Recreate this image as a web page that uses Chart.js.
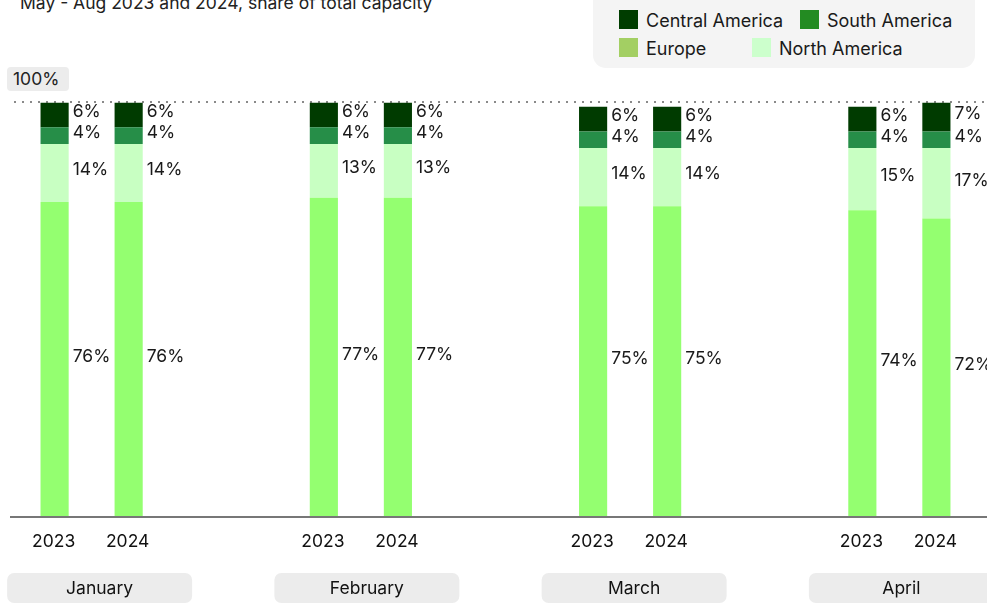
<!DOCTYPE html>
<html>
<head>
<meta charset="utf-8">
<script src="https://cdn.jsdelivr.net/npm/chart.js@4"></script>
<style>
  html, body { margin: 0; padding: 0; background: #fff; width: 987px; height: 603px; overflow: hidden; position: relative; font-family: Inter, "Noto Sans", sans-serif; color: #1a1a1a; }
  #title { position: absolute; left: 20px; top: -8px; font-size: 17.5px; white-space: nowrap; color: #222; }
  #legend { position: absolute; left: 593px; top: -20px; width: 382px; height: 88px; background: #f4f4f4; border-radius: 13px; }
  .item { position: absolute; font-size: 18px; line-height: 20px; white-space: nowrap; color: #1a1a1a; }
  .sw { position: absolute; width: 19px; height: 19px; }
  #cap { position: absolute; left: 7px; top: 67px; width: 62px; height: 24px; background: #ececec; border-radius: 4px; font-size: 17.5px; line-height: 24px; text-indent: 6px; color: #222; }
  #wrap { position: absolute; left: -43px; top: 0; }
</style>
</head>
<body>
<div id="title">May - Aug 2023 and 2024, share of total capacity</div>
<div id="legend"></div>
<div id="cap">100%</div>
<div id="wrap"><canvas id="c" width="1077" height="603"></canvas></div>
<script>
// Months and years
const months = ['January', 'February', 'March', 'April'];
const years = ['2023', '2024'];

// Share of total capacity (%) by region
const europe2023 = [76, 77, 75, 74];
const europe2024 = [76, 77, 75, 72];
const northAmerica2023 = [14, 13, 14, 15];
const northAmerica2024 = [14, 13, 14, 17];
const southAmerica2023 = [4, 4, 4, 4];
const southAmerica2024 = [4, 4, 4, 4];
const centralAmerica2023 = [6, 6, 6, 6];
const centralAmerica2024 = [6, 6, 6, 7];

const regions = ['Central America', 'South America', 'Europe', 'North America'];

const barColors = {
  'Europe': '#94ff70',
  'North America': '#c8ffc2',
  'South America': '#268e48',
  'Central America': '#003b00'
};
const legendColors = {
  'Central America': '#003d00',
  'South America': '#238b22',
  'Europe': '#a3cf63',
  'North America': '#ccffcc'
};

// HTML legend
const legendPos = {
  'Central America': [26, 30],
  'South America': [207, 30],
  'Europe': [26, 58],
  'North America': [159, 58]
};
const legendEl = document.getElementById('legend');
regions.forEach(r => {
  const [lx, ly] = legendPos[r];
  const sw = document.createElement('div');
  sw.className = 'sw';
  sw.style.left = lx + 'px';
  sw.style.top = ly + 'px';
  sw.style.background = legendColors[r];
  legendEl.appendChild(sw);
  const t = document.createElement('div');
  t.className = 'item';
  t.style.left = (lx + 27) + 'px';
  t.style.top = (ly + 1) + 'px';
  t.textContent = r;
  legendEl.appendChild(t);
});

const series = [
  ['Europe', '2023', europe2023], ['North America', '2023', northAmerica2023],
  ['South America', '2023', southAmerica2023], ['Central America', '2023', centralAmerica2023],
  ['Europe', '2024', europe2024], ['North America', '2024', northAmerica2024],
  ['South America', '2024', southAmerica2024], ['Central America', '2024', centralAmerica2024]
];

const datasets = series.map(([region, year, values]) => ({
  label: region + ' ' + year,
  data: values,
  stack: year,
  backgroundColor: barColors[region],
  borderWidth: 0,
  categoryPercentage: 0.55,
  barPercentage: 0.38
}));

const FONT = 'Inter, "Noto Sans", sans-serif';
const PAGE_OFFSET = 43; // canvas sits 43px left of the page edge

const decorations = {
  id: 'decorations',
  beforeDatasetsDraw(chart) {
    const ctx = chart.ctx;
    const y = chart.scales.y;
    const right = chart.width;
    // dotted 100% reference line
    ctx.save();
    ctx.strokeStyle = '#8a8a8a';
    ctx.lineWidth = 2;
    ctx.setLineDash([2, 6]);
    ctx.beginPath();
    const y100 = Math.round(y.getPixelForValue(100)) - 1;
    ctx.moveTo(PAGE_OFFSET + 14, y100);
    ctx.lineTo(right, y100);
    ctx.stroke();
    ctx.restore();
  },
  afterDatasetsDraw(chart) {
    const ctx = chart.ctx;
    const x = chart.scales.x;
    const y = chart.scales.y;
    const right = chart.width;

    // baseline
    ctx.save();
    ctx.strokeStyle = '#777';
    ctx.lineWidth = 2;
    ctx.beginPath();
    const y0 = Math.round(y.getPixelForValue(0));
    ctx.moveTo(PAGE_OFFSET + 10, y0);
    ctx.lineTo(right, y0);
    ctx.stroke();

    // value labels beside each segment
    ctx.font = '17.5px ' + FONT;
    ctx.fillStyle = '#1a1a1a';
    ctx.textAlign = 'left';
    ctx.textBaseline = 'middle';
    chart.data.datasets.forEach((ds, di) => {
      const meta = chart.getDatasetMeta(di);
      meta.data.forEach((el, i) => {
        const v = ds.data[i];
        ctx.fillText(v + '%', el.x + el.width / 2 + 4, (el.y + el.base) / 2 - 3);
      });
    });

    // year labels under each bar
    ctx.fillStyle = '#111';
    ctx.textAlign = 'center';
    years.forEach(yr => {
      const di = chart.data.datasets.findIndex(d => d.stack === yr);
      chart.getDatasetMeta(di).data.forEach(el => {
        ctx.fillText(yr, el.x - 1, 542);
      });
    });

    // month tabs
    months.forEach((m, i) => {
      const cx = x.getPixelForValue(i) + 8 - 2 * i;
      const w = 185, h = 30, top = 573, r = 7;
      ctx.fillStyle = '#ececec';
      ctx.beginPath();
      ctx.roundRect(cx - w / 2, top, w, h, r);
      ctx.fill();
      ctx.fillStyle = '#111';
      ctx.fillText(m, cx, top + h / 2 + 1);
    });
    ctx.restore();
  }
};

new Chart(document.getElementById('c'), {
  type: 'bar',
  data: { labels: months, datasets },
  options: {
    responsive: false,
    animation: false,
    layout: { padding: { top: 102.5, bottom: 86, left: 0, right: 0 } },
    plugins: { legend: { display: false }, tooltip: { enabled: false } },
    scales: {
      x: { stacked: true, display: false },
      y: { stacked: true, display: false, min: 0, max: 100 }
    }
  },
  plugins: [decorations]
});
</script>
</body>
</html>
